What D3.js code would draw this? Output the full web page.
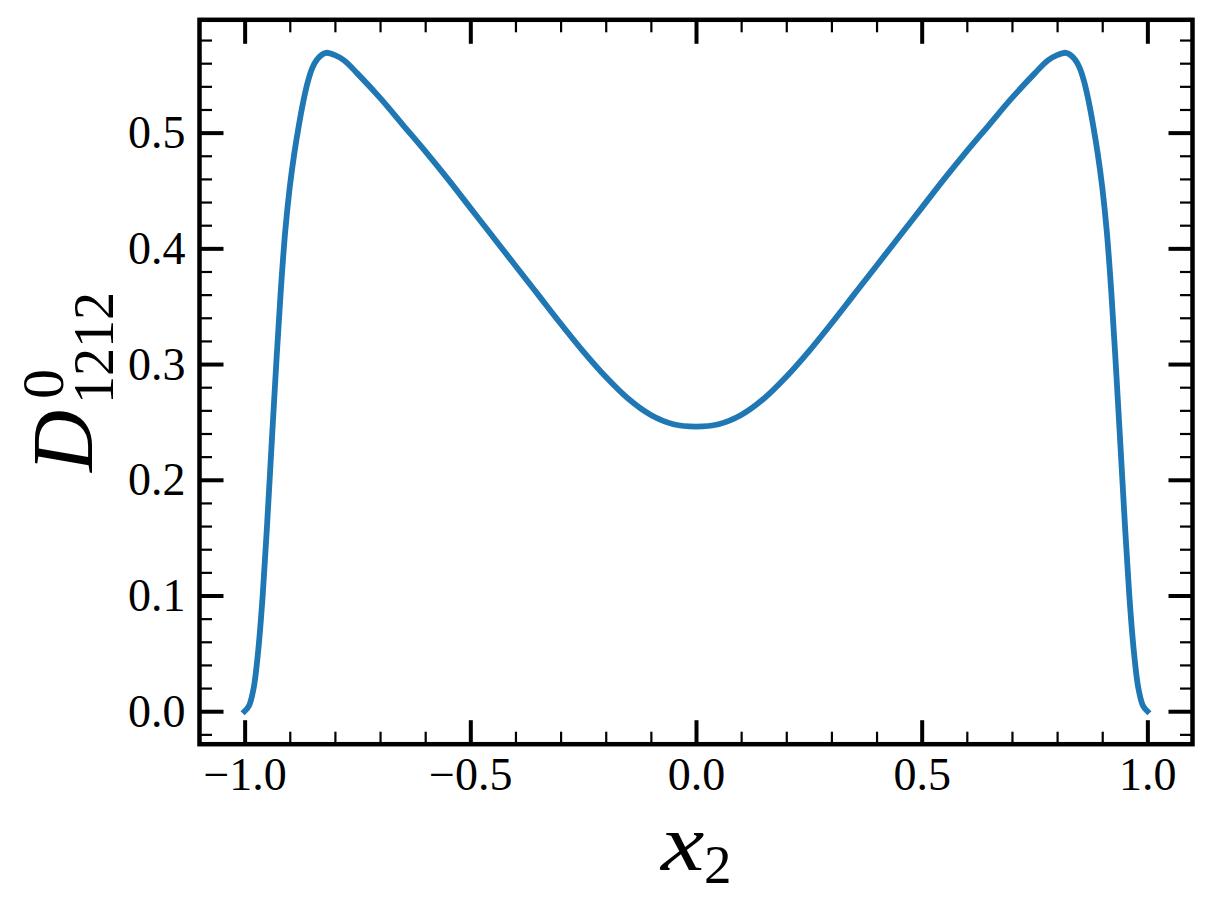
<!DOCTYPE html>
<html>
<head>
<meta charset="utf-8">
<script src="https://cdn.jsdelivr.net/npm/d3@7"></script>
<style>
  html, body { margin: 0; padding: 0; background: #ffffff; }
  svg { display: block; }
</style>
</head>
<body>
<svg id="chart" width="1211" height="908"></svg>
<script>
// ---- data ----
const xValues = [-1.0, -0.99, -0.98, -0.97, -0.96, -0.95, -0.94, -0.93, -0.92, -0.91, -0.90,
  -0.89, -0.88, -0.87, -0.86, -0.85, -0.84, -0.83, -0.82, -0.80, -0.78, -0.75, -0.70,
  -0.65, -0.60, -0.55, -0.50, -0.45, -0.40, -0.35, -0.30, -0.25, -0.20, -0.15, -0.10, -0.05,
  0.0,
  0.05, 0.10, 0.15, 0.20, 0.25, 0.30, 0.35, 0.40, 0.45, 0.50, 0.55, 0.60, 0.65,
  0.70, 0.75, 0.78, 0.80, 0.82, 0.83, 0.84, 0.85, 0.86, 0.87, 0.88, 0.89, 0.90,
  0.91, 0.92, 0.93, 0.94, 0.95, 0.96, 0.97, 0.98, 0.99, 1.0];
const dValues = [0.000, 0.005, 0.020, 0.052, 0.100, 0.163, 0.232, 0.300, 0.363, 0.415, 0.453,
  0.482, 0.506, 0.527, 0.544, 0.556, 0.563, 0.567, 0.569, 0.567, 0.5625, 0.551, 0.530,
  0.507, 0.484, 0.460, 0.435, 0.410, 0.385, 0.360, 0.335, 0.311, 0.289, 0.270, 0.256, 0.248,
  0.246,
  0.248, 0.256, 0.270, 0.289, 0.311, 0.335, 0.360, 0.385, 0.410, 0.435, 0.460, 0.484, 0.507,
  0.530, 0.551, 0.5625, 0.567, 0.569, 0.567, 0.563, 0.556, 0.544, 0.527, 0.506, 0.482, 0.453,
  0.415, 0.363, 0.300, 0.232, 0.163, 0.100, 0.052, 0.020, 0.005, 0.000];

const xMajorTicks = [-1.0, -0.5, 0.0, 0.5, 1.0];
const xTickLabels = ["\u22121.0", "\u22120.5", "0.0", "0.5", "1.0"];
const yMajorTicks = [0.0, 0.1, 0.2, 0.3, 0.4, 0.5];
const yTickLabels = ["0.0", "0.1", "0.2", "0.3", "0.4", "0.5"];
const xMinorTicks = [-0.9, -0.8, -0.7, -0.6, -0.4, -0.3, -0.2, -0.1, 0.1, 0.2, 0.3, 0.4, 0.6, 0.7, 0.8, 0.9];
const yMinorTicks = [-0.02, 0.02, 0.04, 0.06, 0.08, 0.12, 0.14, 0.16, 0.18, 0.22, 0.24, 0.26, 0.28,
  0.32, 0.34, 0.36, 0.38, 0.42, 0.44, 0.46, 0.48, 0.52, 0.54, 0.56, 0.58];

// ---- layout ----
const L = 199.5, R = 1192.5, T = 19.8, B = 744.2;
const svg = d3.select("#chart");

const x = d3.scaleLinear().domain([-1.1, 1.1]).range([L, R]);
const y = d3.scaleLinear().domain([-0.0285, 0.5975]).range([B, T]);

const serif = "'Liberation Serif', 'Times New Roman', serif";
const MAJ = 24, MIN = 12.5;

function styleAxis(g, w) {
  g.select(".domain").remove();
  g.selectAll(".tick line").attr("stroke", "#000").attr("stroke-width", w);
}

// bottom major with labels
const xb = svg.append("g").attr("transform", `translate(0,${B})`)
  .call(d3.axisBottom(x).tickValues(xMajorTicks).tickSizeInner(-MAJ).tickSizeOuter(0).tickPadding(0)
    .tickFormat((d, i) => xTickLabels[i]));
styleAxis(xb, 4);
xb.selectAll(".tick text").attr("font-family", serif).attr("font-size", 46).attr("fill", "#000")
  .attr("dy", null).attr("y", 46);
styleAxis(svg.append("g").attr("transform", `translate(0,${B})`)
  .call(d3.axisBottom(x).tickValues(xMinorTicks).tickSizeInner(-MIN).tickSizeOuter(0).tickFormat("")), 2.2);
// top
styleAxis(svg.append("g").attr("transform", `translate(0,${T})`)
  .call(d3.axisTop(x).tickValues(xMajorTicks).tickSizeInner(-MAJ).tickSizeOuter(0).tickFormat("")), 4);
styleAxis(svg.append("g").attr("transform", `translate(0,${T})`)
  .call(d3.axisTop(x).tickValues(xMinorTicks).tickSizeInner(-MIN).tickSizeOuter(0).tickFormat("")), 2.2);
// left major with labels
const yl = svg.append("g").attr("transform", `translate(${L},0)`)
  .call(d3.axisLeft(y).tickValues(yMajorTicks).tickSizeInner(-MAJ).tickSizeOuter(0).tickPadding(0)
    .tickFormat((d, i) => yTickLabels[i]));
styleAxis(yl, 4);
yl.selectAll(".tick text").attr("font-family", serif).attr("font-size", 46).attr("fill", "#000")
  .attr("x", -14).attr("dy", "0.33em");
styleAxis(svg.append("g").attr("transform", `translate(${L},0)`)
  .call(d3.axisLeft(y).tickValues(yMinorTicks).tickSizeInner(-MIN).tickSizeOuter(0).tickFormat("")), 2.2);
// right
styleAxis(svg.append("g").attr("transform", `translate(${R},0)`)
  .call(d3.axisRight(y).tickValues(yMajorTicks).tickSizeInner(-MAJ).tickSizeOuter(0).tickFormat("")), 4);
styleAxis(svg.append("g").attr("transform", `translate(${R},0)`)
  .call(d3.axisRight(y).tickValues(yMinorTicks).tickSizeInner(-MIN).tickSizeOuter(0).tickFormat("")), 2.2);

// data line
const pts = xValues.map((v, i) => [v, dValues[i]]);
svg.append("path")
  .datum(pts)
  .attr("fill", "none")
  .attr("stroke", "#1f77b4")
  .attr("stroke-width", 5.8)
  .attr("stroke-linecap", "square")
  .attr("stroke-linejoin", "round")
  .attr("d", d3.line().x(d => x(d[0])).y(d => y(d[1])).curve(d3.curveCatmullRom.alpha(0.5)));

// frame
svg.append("rect")
  .attr("x", L).attr("y", T).attr("width", R - L).attr("height", B - T)
  .attr("fill", "none").attr("stroke", "#000").attr("stroke-width", 4.5);

// x label: x_2
svg.append("text").attr("transform", "translate(661,870) scale(1.22,1)")
  .attr("font-family", serif).attr("font-size", 80).attr("font-style", "italic")
  .attr("fill", "#000").text("x");
svg.append("text").attr("x", 704).attr("y", 883).attr("font-family", serif)
  .attr("font-size", 55).attr("fill", "#000").text("2");

// y label: D^0_{1212}
const ylab = svg.append("g").attr("transform", "translate(91.7,472) rotate(-90)");
ylab.append("text").attr("x", 0).attr("y", 0).attr("font-family", serif)
  .attr("font-size", 86).attr("font-style", "italic").attr("fill", "#000").text("D");
ylab.append("text").attr("x", 73).attr("y", -28.5).attr("font-family", serif)
  .attr("font-size", 60).attr("fill", "#000").text("0");
ylab.append("text").attr("x", 68).attr("y", 21.5).attr("font-family", serif)
  .attr("font-size", 56).attr("fill", "#000").text("1212");
</script>
</body>
</html>
